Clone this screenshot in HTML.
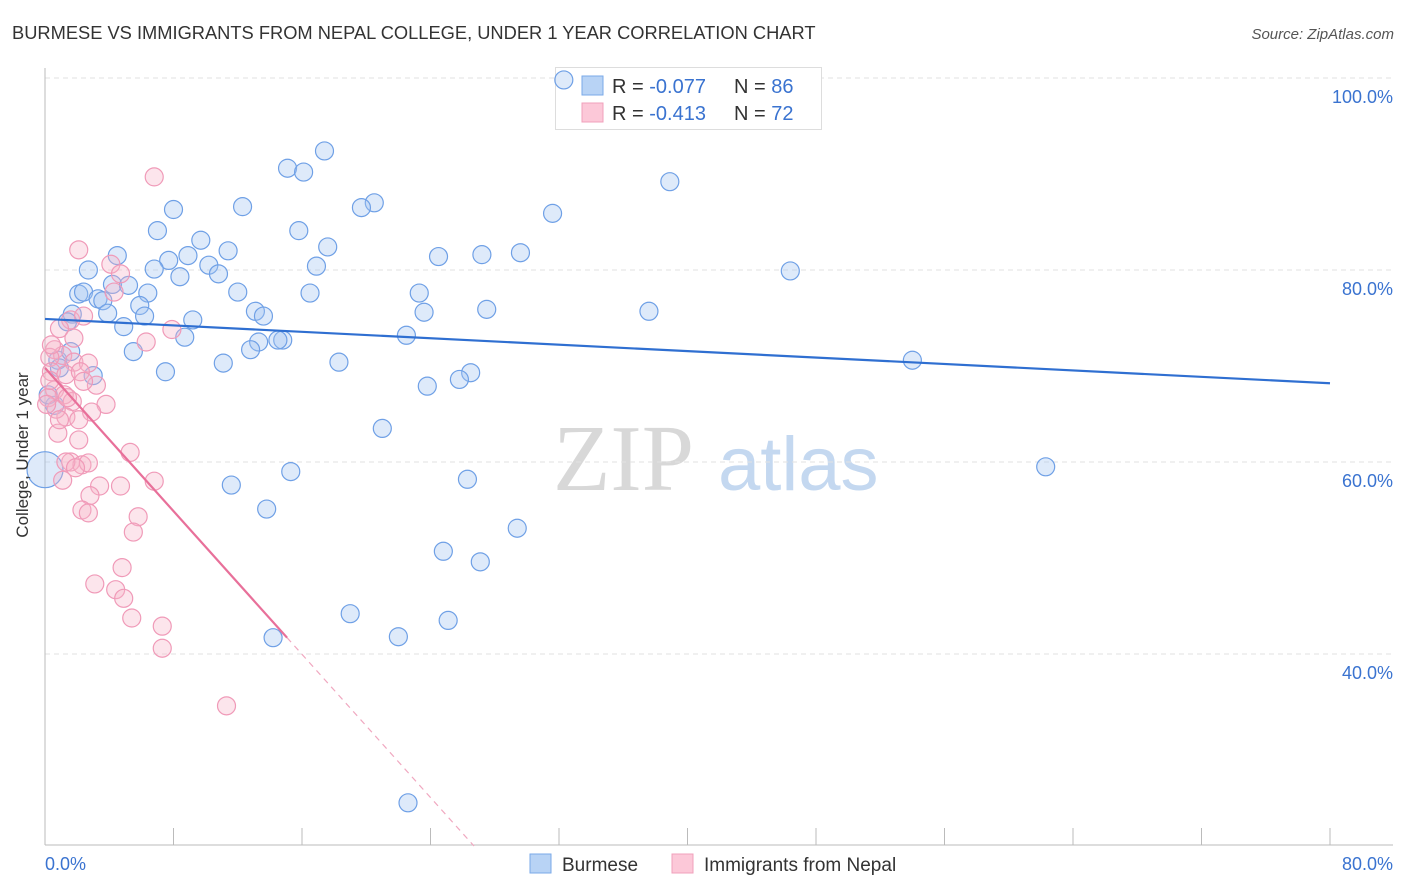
<!DOCTYPE html>
<html><head><meta charset="utf-8"><style>
body{margin:0;background:#fff;font-family:"Liberation Sans",sans-serif;}
svg{display:block}
</style></head><body>
<svg id="chart" width="1406" height="892">
<text x="12" y="39" font-size="18.3" fill="#333">BURMESE VS IMMIGRANTS FROM NEPAL COLLEGE, UNDER 1 YEAR CORRELATION CHART</text>
<text x="1394" y="39" font-size="15" fill="#555" font-style="italic" text-anchor="end">Source: ZipAtlas.com</text>
<g>
<text x="553" y="490" font-size="94" fill="#d8d8d8" font-family="Liberation Serif,serif">ZIP</text>
<text x="718" y="490" font-size="76" fill="#c4d8f0">atlas</text>
</g>
<g id="grid"></g><g id="axes"></g>
<g>
<rect x="555.5" y="67.5" width="266" height="62" fill="#fff" stroke="#ddd"/>
<rect x="582" y="76" width="21" height="19" fill="#b8d3f5" stroke="#7aaae8"/>
<rect x="582" y="103" width="21" height="19" fill="#fcc8d8" stroke="#f0a0bb"/>
<text x="612" y="93" font-size="20" fill="#333">R = <tspan fill="#3a73d0">-0.077</tspan></text>
<text x="734" y="93" font-size="20" fill="#333">N = <tspan fill="#3a73d0">86</tspan></text>
<text x="612" y="120" font-size="20" fill="#333">R = <tspan fill="#3a73d0"> -0.413</tspan></text>
<text x="734" y="120" font-size="20" fill="#333">N = <tspan fill="#3a73d0">72</tspan></text>
</g>
<g id="pts"></g><g id="lines"></g>
<text transform="translate(28,455) rotate(-90)" font-size="17" fill="#333" text-anchor="middle">College, Under 1 year</text>
<g>
<rect x="530" y="854" width="21" height="19" fill="#b8d3f5" stroke="#7aaae8"/>
<text x="562" y="871" font-size="19" fill="#333">Burmese</text>
<rect x="672" y="854" width="21" height="19" fill="#fcc8d8" stroke="#f0a0bb"/>
<text x="704" y="871" font-size="19" fill="#333">Immigrants from Nepal</text>
</g>
</svg>
<script>
const yTicks=[40,60,80,100];
const yTickLabels=["40.0%","60.0%","80.0%","100.0%"];
const xTicks=[0,8,16,24,32,40,48,56,64,72,80];
const burX=[32.3,17.4,15.1,16.1,38.9,8.0,12.3,20.5,19.7,31.6,7.0,15.8,9.7,11.4,8.9,4.5,7.7,24.5,27.2,29.6,17.6,2.7,6.8,10.2,10.8,8.4,16.9,46.4,4.2,5.2,2.1,2.4,6.4,12.0,16.5,23.3,3.3,3.6,5.9,3.9,6.2,13.1,13.6,27.5,23.6,37.6,1.7,1.4,9.2,4.9,8.7,13.3,14.8,14.5,22.5,5.5,12.8,54.0,18.3,11.1,7.5,3.0,0.8,26.5,25.8,23.8,21.0,62.3,15.3,26.3,11.6,13.8,29.4,24.8,27.1,19.0,25.1,22.0,14.2,22.6,0.6,0.2,0.9,1.6];
const burY=[99.8,92.4,90.6,90.2,89.2,86.3,86.6,87.0,86.5,85.9,84.1,84.1,83.1,82.0,81.5,81.5,81.0,81.4,81.6,81.8,82.4,80.0,80.1,80.5,79.6,79.3,80.4,79.9,78.5,78.4,77.5,77.7,77.6,77.7,77.6,77.6,77.0,76.8,76.3,75.5,75.2,75.7,75.2,75.9,75.6,75.7,75.4,74.6,74.8,74.1,73.0,72.5,72.7,72.7,73.2,71.5,71.7,70.6,70.4,70.3,69.4,69.0,70.6,69.3,68.6,67.9,63.5,59.5,59.0,58.2,57.6,55.1,53.1,50.7,49.6,44.2,43.5,41.8,41.7,24.5,65.9,67.0,69.8,71.5];
const nepX=[6.8,2.1,4.1,4.7,4.3,1.6,2.4,0.9,1.8,6.3,7.9,0.6,1.1,0.3,1.8,2.7,0.4,1.3,2.2,3.2,2.4,0.6,1.2,0.2,1.7,3.8,2.9,1.3,2.1,0.8,5.3,1.6,2.3,1.3,2.7,1.9,1.1,6.8,3.4,4.7,2.8,2.3,2.7,5.8,5.5,4.8,3.1,4.4,4.9,5.4,7.3,7.3,11.3,0.3,0.7,0.9,2.1,0.1,0.4,1.4];
const nepY=[89.7,82.1,80.6,79.6,77.7,74.8,75.2,73.9,72.9,72.5,73.8,71.7,71.1,70.9,70.4,70.3,69.4,69.1,69.4,68.0,68.4,67.5,67.0,66.7,66.3,66.0,65.2,64.7,64.4,63.0,61.0,60.0,59.7,60.0,59.9,59.4,58.1,58.0,57.5,57.5,56.5,55.0,54.7,54.3,52.7,49.0,47.3,46.7,45.8,43.75,42.9,40.6,34.6,68.5,65.5,64.4,62.3,66.0,72.2,66.7];
const burTrend=[74.9,68.2];
const nepTrend=[69.8,41.7,15.07];
const NS="http://www.w3.org/2000/svg";
const X=v=>45+v/80*1285, Y=v=>78+(100-v)*9.6;
function mk(t,a,p){const e=document.createElementNS(NS,t);for(const k in a)e.setAttribute(k,a[k]);p.appendChild(e);return e;}
const grid=document.getElementById('grid'),axes=document.getElementById('axes');
yTicks.forEach((t,i)=>{
 const l=mk('line',{x1:45,x2:1393,y1:Y(t),y2:Y(t),stroke:'#e2e2e2','stroke-dasharray':'5,4'},grid);
 
 
 const tx=mk('text',{x:1393,y:Y(t)+25,'font-size':18,fill:'#3a73d0','text-anchor':'end'},axes);
 tx.textContent=yTickLabels[i];
 
 
});
mk('line',{x1:45,x2:45,y1:68,y2:845,stroke:'#bbb'},axes);
mk('line',{x1:45,x2:1393,y1:845,y2:845,stroke:'#bbb'},axes);
xTicks.forEach(t=>{const l=mk('line',{x1:X(t),x2:X(t),y1:828,y2:845,stroke:'#bbb'},axes);
 
 });
const a=mk('text',{x:45,y:870,'font-size':18,fill:'#3a73d0'},axes);a.textContent='0.0%';


const b=mk('text',{x:1393,y:870,'font-size':18,fill:'#3a73d0','text-anchor':'end'},axes);b.textContent='80.0%';


const pts=document.getElementById('pts');
burX.forEach((x,i)=>{const c=mk('circle',{cx:X(x),cy:Y(burY[i]),r:9,fill:'rgba(160,195,240,0.35)',stroke:'#6fa0e6','stroke-width':1.2},pts);
 
 });
const big=mk('circle',{cx:X(0),cy:Y(59.2),r:18,fill:'rgba(160,195,240,0.35)',stroke:'#6fa0e6','stroke-width':1.2},pts);


nepX.forEach((x,i)=>{const c=mk('circle',{cx:X(x),cy:Y(nepY[i]),r:9,fill:'rgba(245,180,200,0.35)',stroke:'#f09ab8','stroke-width':1.2},pts);
 
 });
const lines=document.getElementById('lines');
const bl=mk('line',{x1:X(0),y1:Y(burTrend[0]),x2:X(80),y2:Y(burTrend[1]),stroke:'#2f6fd1','stroke-width':2.2},lines);


const slope=(nepTrend[1]-nepTrend[0])/nepTrend[2];
const pl=mk('line',{x1:X(0),y1:Y(nepTrend[0]),x2:X(nepTrend[2]),y2:Y(nepTrend[1]),stroke:'#e8709a','stroke-width':2.2},lines);


const xEnd=(20-nepTrend[0])/slope;
const pd=mk('line',{x1:X(nepTrend[2]),y1:Y(nepTrend[1]),x2:X(xEnd),y2:Y(20),stroke:'#f0a8c0','stroke-width':1.2,'stroke-dasharray':'6,5'},lines);


</script>
</body></html>
